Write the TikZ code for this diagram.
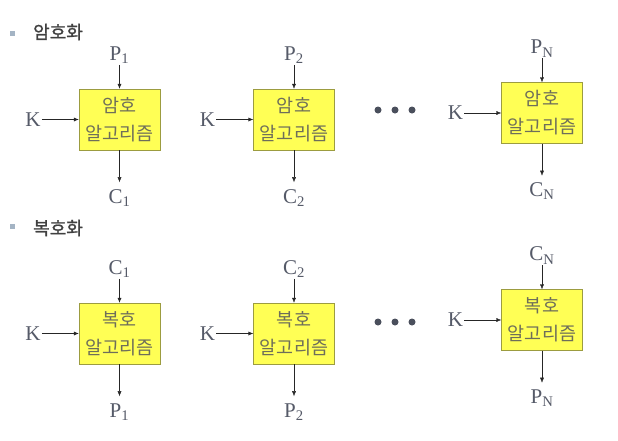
\documentclass[tikz,border=0pt]{standalone}
\usepackage{fontspec}
\setmainfont{Liberation Serif}
\newfontfamily\kr{Noto Sans CJK KR}
\newfontfamily\krhead[FakeBold=1.2]{Noto Sans CJK KR}
\usepackage{xcolor}
\usetikzlibrary{positioning,arrows.meta}
\definecolor{boxfill}{HTML}{FFFF55}
\definecolor{boxline}{HTML}{9C9C40}
\definecolor{boxtext}{HTML}{6E6E5A}
\definecolor{lblgray}{HTML}{555A68}
\definecolor{dotgray}{HTML}{4A4F5C}
\definecolor{bulletgray}{HTML}{A4B4C4}

\begin{document}
\begin{tikzpicture}[x=1pt, y=-1pt,
      font=\fontsize{21}{23}\selectfont,
      node distance=24pt and 37pt,
      algo/.style={draw=boxline, fill=boxfill, minimum width=81pt, minimum height=61pt, align=center, inner sep=0pt, text=boxtext, font=\kr\fontsize{18.5}{28}\selectfont},
      lbl/.style={text=lblgray, inner sep=1pt},
      head/.style={anchor=west, inner sep=0pt, text=black!75, font=\krhead\fontsize{18}{20}\selectfont},
      bullet/.style={fill=bulletgray, inner sep=0pt, minimum size=5pt},
      dot/.style={circle, fill=dotgray, inner sep=0pt, minimum size=7pt},
      arr/.style={-{Latex[length=5pt,width=4pt]}, thin, draw=black!85},
      arrc/.style={arr, shorten >=6pt}]
    \useasboundingbox[fill=white] (0,0) rectangle (618,440);
    % encryption
    \node[bullet] (b1) at (12,33) {};
    \node[head] (h1) at (33,32) {암호화};
    \node[algo] (e1) at (119.5,119.5) {암호\\알고리즘};
    \node[algo] (e2) at (294,119.5) {암호\\알고리즘};
    \node[algo] (e3) at (542,113) {암호\\알고리즘};
    \node[lbl, above=of e1] (p1) {P\textsubscript{1}};
    \node[lbl, above=of e2] (p2) {P\textsubscript{2}};
    \node[lbl, above=of e3] (pn) {P\textsubscript{N}};
    \node[lbl, below=38pt of e1] (c1) {C\textsubscript{1}};
    \node[lbl, below=38pt of e2] (c2) {C\textsubscript{2}};
    \node[lbl, below=38pt of e3] (cn) {C\textsubscript{N}};
    \node[lbl, left=of e1] (k1) {K};
    \node[lbl, left=of e2] (k2) {K};
    \node[lbl, left=of e3] (k3) {K};
    \node[dot] (ed1) at (378,110) {};
    \node[dot] (ed2) at (395,110) {};
    \node[dot] (ed3) at (412,110) {};
    \draw[arr] (p1) -- (e1);
    \draw[arr] (p2) -- (e2);
    \draw[arr] (pn) -- (e3);
    \draw[arr] (k1) -- (e1);
    \draw[arr] (k2) -- (e2);
    \draw[arr] (k3) -- (e3);
    \draw[arrc] (e1) -- (c1);
    \draw[arrc] (e2) -- (c2);
    \draw[arrc] (e3) -- (cn);
    % decryption
    \node[bullet] (b2) at (12,226) {};
    \node[head] (h2) at (33,228) {복호화};
    \node[algo] (d1) at (119.5,333.5) {복호\\알고리즘};
    \node[algo] (d2) at (294,333.5) {복호\\알고리즘};
    \node[algo] (d3) at (542,320) {복호\\알고리즘};
    \node[lbl, above=of d1] (dc1) {C\textsubscript{1}};
    \node[lbl, above=of d2] (dc2) {C\textsubscript{2}};
    \node[lbl, above=of d3] (dcn) {C\textsubscript{N}};
    \node[lbl, below=38pt of d1] (dp1) {P\textsubscript{1}};
    \node[lbl, below=38pt of d2] (dp2) {P\textsubscript{2}};
    \node[lbl, below=38pt of d3] (dpn) {P\textsubscript{N}};
    \node[lbl, left=of d1] (dk1) {K};
    \node[lbl, left=of d2] (dk2) {K};
    \node[lbl, left=of d3] (dk3) {K};
    \node[dot] (dd1) at (378,322) {};
    \node[dot] (dd2) at (395,322) {};
    \node[dot] (dd3) at (412,322) {};
    \draw[arr] (dc1) -- (d1);
    \draw[arr] (dc2) -- (d2);
    \draw[arr] (dcn) -- (d3);
    \draw[arr] (dk1) -- (d1);
    \draw[arr] (dk2) -- (d2);
    \draw[arr] (dk3) -- (d3);
    \draw[arrc] (d1) -- (dp1);
    \draw[arrc] (d2) -- (dp2);
    \draw[arrc] (d3) -- (dpn);
  \end{tikzpicture}
\end{document}
